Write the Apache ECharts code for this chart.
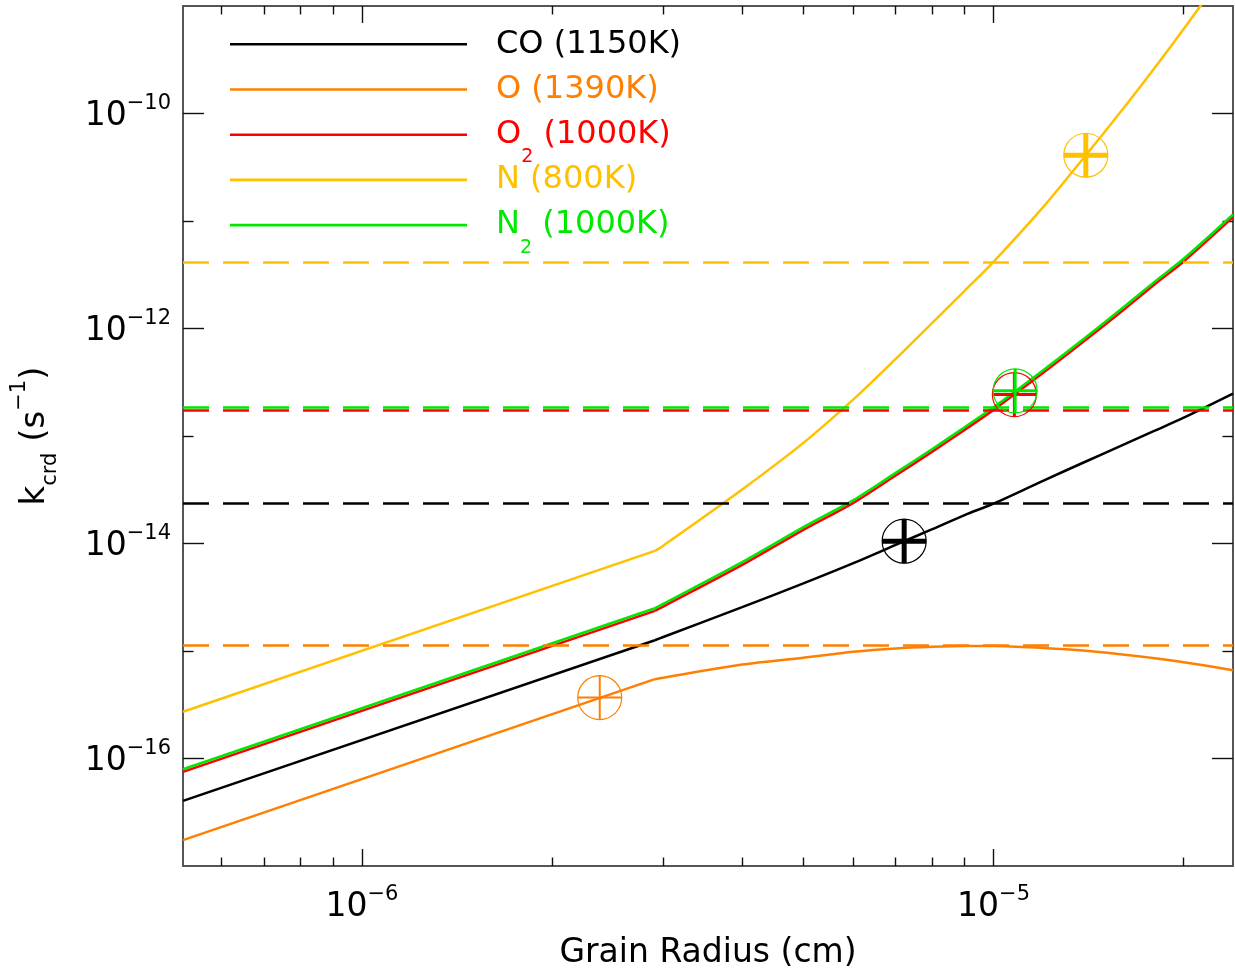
<!DOCTYPE html>
<html>
<head>
<meta charset="utf-8">
<title>Cosmic-ray induced desorption rate vs grain radius</title>
<script src="https://cdn.jsdelivr.net/npm/echarts@6/dist/echarts.min.js"></script>
<style>
  html, body { margin: 0; padding: 0; background: #ffffff; }
  #chart { width: 1235px; height: 976px; }
</style>
</head>
<body>
<div id="chart"></div>
<script>
// ---- data ---------------------------------------------------------------
// grain radius samples (cm); the second entry is where every curve bends
const radius = [5.21e-7, 2.91e-6, 3e-6, 4e-6, 5e-6, 6e-6, 7e-6, 8e-6, 9e-6,
                1e-5, 1.2e-5, 1.4e-5, 1.6e-5, 1.8e-5, 2e-5, 2.394e-5];

// desorption rate k_crd (s^-1) for each species at the radii above
const kCO = [4.04e-17, 1.26e-15, 1.35e-15, 2.56e-15, 4.26e-15, 6.57e-15, 9.71e-15, 1.36e-14, 1.84e-14,
             2.35e-14, 3.85e-14, 5.79e-14, 8.23e-14, 1.12e-13, 1.48e-13, 2.48e-13];
const kO  = [1.74e-17, 5.47e-16, 5.65e-16, 7.49e-16, 8.67e-16, 9.83e-16, 1.056e-15, 1.094e-15, 1.113e-15,
             1.113e-15, 1.066e-15, 1.005e-15, 9.28e-16, 8.57e-16, 7.87e-16, 6.63e-16];
const kO2 = [7.50e-17, 2.36e-15, 2.59e-15, 6.32e-15, 1.34e-14, 2.39e-14, 4.29e-14, 7.15e-14, 1.14e-13,
             1.75e-13, 3.89e-13, 7.84e-13, 1.46e-12, 2.58e-12, 4.20e-12, 1.085e-11];
const kN  = [2.72e-16, 8.53e-15, 9.55e-15, 3.18e-14, 8.63e-14, 2.19e-13, 5.21e-13, 1.13e-12, 2.24e-12,
             4.17e-12, 1.36e-11, 4.09e-11, 1.09e-10, 2.67e-10, 6.12e-10, 2.61e-9];
const kN2 = [7.95e-17, 2.50e-15, 2.74e-15, 6.70e-15, 1.42e-14, 2.53e-14, 4.54e-14, 7.57e-14, 1.208e-13,
             1.85e-13, 4.12e-13, 8.30e-13, 1.55e-12, 2.73e-12, 4.45e-12, 1.15e-11];

const species = ['CO (1150K)', 'O (1390K)', 'O2 (1000K)', 'N (800K)', 'N2 (1000K)'];
const rates = [kCO, kO, kO2, kN, kN2];

// reference rate for each species (dashed horizontal lines)
const thresholds = [2.35e-14, 1.11e-15, 1.74e-13, 4.17e-12, 1.87e-13];

// highlighted grain per species (circled cross)
const markerRadius = [7.22e-6, 2.38e-6, 1.079e-5, 1.40e-5, 1.082e-5];
const markerRate   = [1.05e-14, 3.69e-16, 2.43e-13, 4.09e-11, 2.63e-13];

// axis extent and ticks
const xRange = [5.21e-7, 2.394e-5];
const yRange = [1e-17, 1e-9];
const xMajorTicks = [1e-6, 1e-5];
const xMinorTicks = [6e-7, 7e-7, 8e-7, 9e-7, 2e-6, 3e-6, 4e-6, 5e-6, 6e-6, 7e-6, 8e-6, 9e-6, 2e-5];
const yMajorTicks = [1e-16, 1e-14, 1e-12, 1e-10];
const yMinorTicks = [1e-15, 1e-13, 1e-11];

// ---- styles -------------------------------------------------------------
const colors = ['#000000', '#ff7f00', '#ff0000', '#ffc000', '#00e800'];
const crossWidth = [5, 2, 3, 5, 3];
const FONT = 'DejaVu Sans';
const frameColor = '#555555';
const tickColor = '#111111';

const lg = Math.log10;

// legend labels; every row ends with a subscript-sized token so all rows share one height
const legendText = {
  'CO (1150K)': 'CO (1150K){sx| }',
  'O (1390K)': 'O (1390K){sx| }',
  'O2 (1000K)': 'O{sr|2} (1000K)',
  'N (800K)': 'N (800K){sx| }',
  'N2 (1000K)': 'N{sg|2} (1000K)'
};
const subStyle = function (color) {
  return { fontFamily: FONT, fontSize: 19, lineHeight: 5, height: 5, verticalAlign: 'bottom', color: color };
};

function powLabel(v) {
  return '{b|10}{p|\u2212' + Math.round(-v) + '}';
}
const powRich = {
  b: { fontFamily: FONT, fontSize: 33, lineHeight: 40, color: '#000' },
  p: { fontFamily: FONT, fontSize: 21, lineHeight: 10, height: 16, verticalAlign: 'top', color: '#000' }
};

function xAxisDef(position, ticks, len, withLabels) {
  return {
    type: 'value', position: position,
    min: lg(xRange[0]), max: lg(xRange[1]),
    splitLine: { show: false },
    axisLine: { show: withLabels, onZero: false, lineStyle: { color: frameColor, width: 2 } },
    axisTick: { show: true, inside: true, length: len, customValues: ticks.map(lg),
                lineStyle: { color: tickColor, width: 1.4 } },
    axisLabel: withLabels && position === 'bottom'
      ? { show: true, customValues: xMajorTicks.map(lg), formatter: powLabel, rich: powRich, margin: 21 }
      : { show: false }
  };
}
function yAxisDef(position, ticks, len, withLabels) {
  return {
    type: 'value', position: position,
    min: lg(yRange[0]), max: lg(yRange[1]),
    splitLine: { show: false },
    axisLine: { show: withLabels, onZero: false, lineStyle: { color: frameColor, width: 2 } },
    axisTick: { show: true, inside: true, length: len, customValues: ticks.map(lg),
                lineStyle: { color: tickColor, width: 1.4 } },
    axisLabel: withLabels && position === 'left'
      ? { show: true, customValues: yMajorTicks.map(lg), formatter: powLabel, rich: powRich,
          margin: 12, padding: [5, 0, 0, 0] }
      : { show: false }
  };
}

const xAxes = [
  xAxisDef('bottom', xMajorTicks, 17, true),
  xAxisDef('bottom', xMinorTicks, 8.5, false),
  xAxisDef('top', xMajorTicks, 17, true),
  xAxisDef('top', xMinorTicks, 8.5, false)
];
xAxes[0].name = 'Grain Radius (cm)';
xAxes[0].nameLocation = 'middle';
xAxes[0].nameGap = 67;
xAxes[0].nameTextStyle = { fontFamily: FONT, fontSize: 33, lineHeight: 40, color: '#000' };

const yAxes = [
  yAxisDef('left', yMajorTicks, 21, true),
  yAxisDef('left', yMinorTicks, 10.5, false),
  yAxisDef('right', yMajorTicks, 21, true),
  yAxisDef('right', yMinorTicks, 10.5, false)
];
yAxes[0].name = '{m|k}{sb|crd}{m| (s}{sp|\u22121}{m|)}';
yAxes[0].nameLocation = 'middle';
yAxes[0].nameRotate = 90;
yAxes[0].nameGap = 126;
yAxes[0].nameTextStyle = {
  fontFamily: FONT, fontSize: 34, lineHeight: 44, color: '#000',
  rich: {
    m: { fontFamily: FONT, fontSize: 34, lineHeight: 44, color: '#000' },
    sb: { fontFamily: FONT, fontSize: 21, lineHeight: 10, height: 13, verticalAlign: 'bottom', color: '#000' },
    sp: { fontFamily: FONT, fontSize: 21, lineHeight: 10, height: 14, verticalAlign: 'top', color: '#000' }
  }
};

// rate curves: a straight power-law part up to the bend, then a smooth rise
const curveSeries = [];
species.forEach(function (name, i) {
  const pts = radius.map(function (r, j) { return [lg(r), lg(rates[i][j])]; });
  curveSeries.push({
    type: 'line', name: name,
    xAxisIndex: 0, yAxisIndex: 0,
    data: pts.slice(0, 2),
    symbol: 'none', clip: true, z: 3,
    lineStyle: { color: colors[i], width: 2.5 },
    itemStyle: { color: colors[i] }
  });
  curveSeries.push({
    type: 'line', name: name,
    xAxisIndex: 0, yAxisIndex: 0,
    data: pts.slice(1),
    symbol: 'none', clip: true, z: 3,
    smooth: 0.3,
    lineStyle: { color: colors[i], width: 2.5 },
    itemStyle: { color: colors[i] },
    markLine: {
      silent: true, symbol: ['none', 'none'], animation: false,
      label: { show: false },
      lineStyle: { color: colors[i], width: 2.6, type: [26, 14] },
      data: [{ yAxis: lg(thresholds[i]) }]
    }
  });
});

// circled cross at each highlighted grain
const markerSeries = {
  type: 'custom', name: 'selected grain',
  xAxisIndex: 0, yAxisIndex: 0, z: 5, clip: false,
  data: markerRadius.map(function (r, i) { return [lg(r), lg(markerRate[i])]; }),
  encode: { x: 0, y: 1 },
  renderItem: function (params, api) {
    const i = params.dataIndex;
    const c = api.coord([api.value(0), api.value(1)]);
    const col = colors[i];
    const w = crossWidth[i];
    const r = 22;
    return {
      type: 'group',
      children: [
        { type: 'circle', shape: { cx: c[0], cy: c[1], r: r },
          style: { fill: 'none', stroke: col, lineWidth: 1.2 } },
        { type: 'rect', shape: { x: c[0] - r, y: c[1] - w / 2, width: 2 * r, height: w },
          style: { fill: col } },
        { type: 'rect', shape: { x: c[0] - w / 2, y: c[1] - r, width: w, height: 2 * r },
          style: { fill: col } }
      ]
    };
  }
};

const chart = echarts.init(document.getElementById('chart'), null, { renderer: 'canvas' });
chart.setOption({
  animation: false,
  backgroundColor: '#ffffff',
  grid: { left: 183, top: 6, width: 1050, height: 860, outerBoundsMode: 'none', containLabel: false },
  xAxis: xAxes,
  yAxis: yAxes,
  legend: {
    orient: 'vertical', left: 230, top: 19.3, padding: 0,
    itemWidth: 237, itemHeight: 2.6, itemGap: -11.8,
    icon: 'rect', selectedMode: false,
    data: species.map(function (name, i) {
      return { name: name, textStyle: { color: colors[i] } };
    }),
    formatter: function (name) { return legendText[name]; },
    textStyle: {
      fontFamily: FONT, fontSize: 32, lineHeight: 50, padding: [0, 0, 0, 24],
      rich: {
        sx: subStyle('#ffffff'),
        sr: subStyle(colors[2]),
        sg: subStyle(colors[4])
      }
    }
  },
  series: curveSeries.concat([markerSeries])
});
</script>
</body>
</html>
